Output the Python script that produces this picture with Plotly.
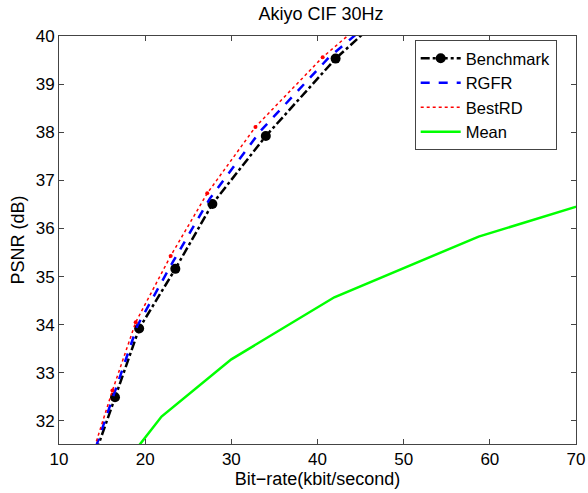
import plotly.graph_objects as go

# bit-rate (kbit/s) and PSNR (dB) for each method
bench_rate = [13.6, 16.5, 19.3, 23.5, 27.8, 34.0, 42.1, 51.5]
bench_psnr = [31.0, 32.49, 33.92, 35.16, 36.51, 37.92, 39.53, 41.05]

rgfr_rate = [13.6, 16.4, 19.1, 23.2, 27.5, 33.4, 41.3, 50.5]
rgfr_psnr = [31.1, 32.55, 33.98, 35.3, 36.62, 38.03, 39.55, 40.95]

best_rate = [13.5, 16.2, 18.9, 22.96, 27.2, 32.8, 40.6, 50.0]
best_psnr = [31.1, 32.63, 34.05, 35.43, 36.73, 38.11, 39.56, 41.0]

mean_rate = [17.5, 21.9, 30.0, 41.95, 58.7, 80.0]
mean_psnr = [31.08, 32.09, 33.28, 34.57, 35.83, 37.0]

font = 'Liberation Sans, Arial, sans-serif'

fig = go.Figure()

fig.add_trace(go.Scatter(
	x=bench_rate, y=bench_psnr,
	mode='lines+markers',
	name='Benchmark',
	line=dict(color='black', width=2.5, dash='dashdot'),
	marker=dict(color='black', size=10, symbol='circle')
))

fig.add_trace(go.Scatter(
	x=rgfr_rate, y=rgfr_psnr,
	mode='lines',
	name='RGFR',
	line=dict(color='blue', width=2.5, dash='dash')
))

fig.add_trace(go.Scatter(
	x=best_rate, y=best_psnr,
	mode='lines',
	name='BestRD',
	line=dict(color='red', width=1.5, dash='dot')
))

# vertices of the dotted line show up as small dots
fig.add_trace(go.Scatter(
	x=best_rate, y=best_psnr,
	mode='markers',
	showlegend=False,
	marker=dict(color='red', size=4)
))

fig.add_trace(go.Scatter(
	x=mean_rate, y=mean_psnr,
	mode='lines',
	name='Mean',
	line=dict(color='#00ff00', width=2.5)
))

axis_style = dict(
	showline=True,
	linecolor='#444444',
	linewidth=1,
	mirror='allticks',
	ticks='inside',
	ticklen=5,
	tickcolor='#444444',
	showgrid=False,
	zeroline=False,
	automargin=False,
	tickfont=dict(size=17, color='black', family=font),
)

fig.update_xaxes(range=[10, 70], dtick=10, title=dict(text='Bit−rate(kbit/second)', font=dict(size=18, color='black', family=font), standoff=0), **axis_style)
fig.update_yaxes(range=[31.52, 40], dtick=1, title=dict(text='PSNR (dB)', font=dict(size=18, color='black', family=font), standoff=6), **axis_style)

fig.update_layout(
	width=588,
	height=493,
	margin=dict(l=59, r=12, t=36, b=49),
	plot_bgcolor='white',
	paper_bgcolor='white',
	font=dict(family=font, color='black'),
	title=dict(text='Akiyo CIF 30Hz', x=0.546, xanchor='center', y=0.972, yanchor='middle', font=dict(size=18, color='black', family=font)),
	legend=dict(
		x=0.688, y=0.99, xanchor='left', yanchor='top',
		bordercolor='#444444', borderwidth=1, bgcolor='white',
		font=dict(size=16.5, color='black', family=font),
		tracegroupgap=0, itemwidth=40,
		entrywidth=100, entrywidthmode='pixels'
	),
)

# drop the default page margin so the figure sits at the window's corner
fig.write_html("out.html", config={'displayModeBar': False},
	post_script="document.body.style.margin='0';")
